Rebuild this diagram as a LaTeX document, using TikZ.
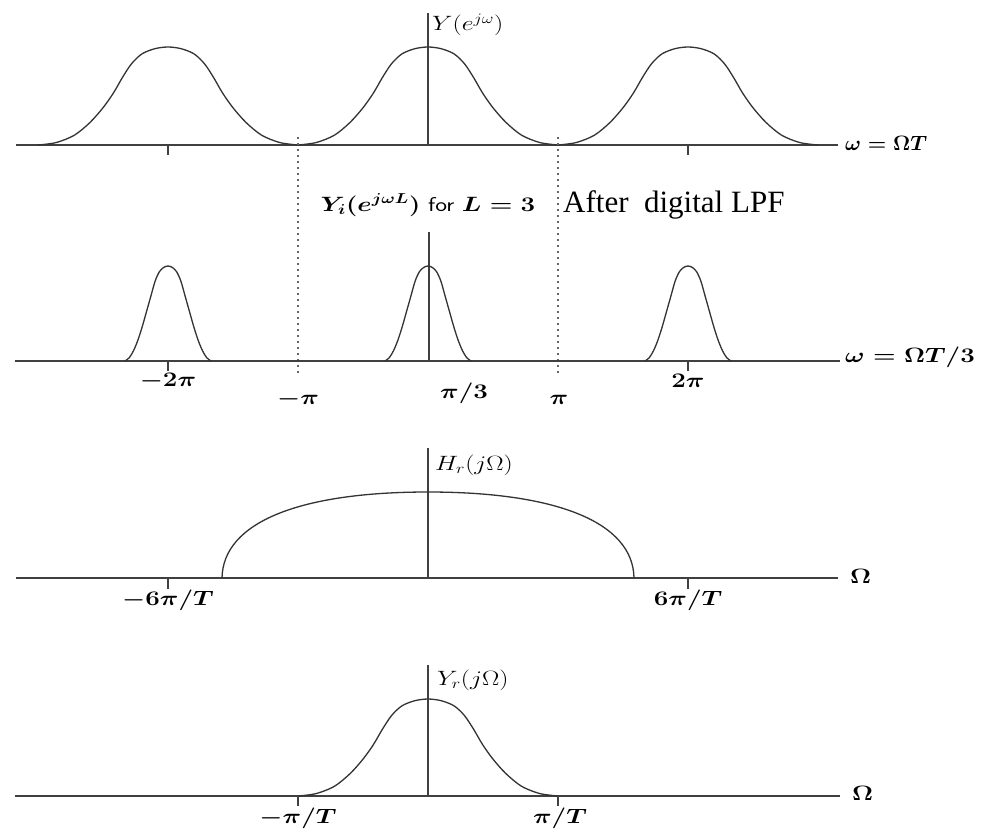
\documentclass[tikz,border=0pt]{standalone}
\usepackage{amsmath}
\usepackage{fontspec}
\newfontfamily\lpffont{Liberation Serif}
\newcommand\bmx[1]{\scalebox{1.25}[1]{\boldmath$#1$}}
\newcommand\bmxn[1]{\scalebox{1.02}[1]{\boldmath$#1$}}
\newcommand\rmx[1]{\scalebox{1.25}[1]{$#1$}}
\tikzset{
  pics/widebell/.style={code={
    \draw[curve] plot[smooth] coordinates {(-1,0) (-0.86,0.025) (-0.72,0.1) (-0.6,0.23) (-0.5,0.38) (-0.42,0.53) (-0.35,0.69) (-0.28,0.83) (-0.2,0.93) (-0.1,0.983) (0,1)
      (0.1,0.983) (0.2,0.93) (0.28,0.83) (0.35,0.69) (0.42,0.53) (0.5,0.38) (0.6,0.23) (0.72,0.1) (0.86,0.025) (1,0)};
  }},
  pics/narrowbell/.style={code={
    \draw[curve] plot[smooth] coordinates {(-1,0) (-0.9,0.035) (-0.8,0.11) (-0.7,0.22) (-0.6,0.36) (-0.5,0.52) (-0.4,0.68) (-0.3,0.84) (-0.2,0.94) (-0.1,0.985) (0,1)
      (0.1,0.985) (0.2,0.94) (0.3,0.84) (0.4,0.68) (0.5,0.52) (0.6,0.36) (0.7,0.22) (0.8,0.11) (0.9,0.035) (1,0)};
  }}
}
\begin{document}
\begin{tikzpicture}[x=1pt,y=-1pt,
  ax/.style={line width=1.3pt, black!75},
  curve/.style={line width=1.3pt, black!80, line join=round},
  tickm/.style={line width=1.1pt, black!75},
  dots/.style={line width=2pt, black!60, dash pattern=on 2pt off 4pt},
  lbl/.style={font=\fontsize{20}{22}\selectfont, inner sep=0pt},
]
\useasboundingbox (0,0) rectangle (984,829);
\fill[white] (0,0) rectangle (984,829);

% ---------- panel 1 ----------
\coordinate (a1l) at (16,145); \coordinate (a1r) at (838,145);
\coordinate (v1b) at (428,145); \coordinate (v1t) at (428,13);
\draw[ax] (a1l) -- (a1r);
\draw[ax] (v1b) -- (v1t);
\foreach \c in {168,428,688} { \pic[xscale=130,yscale=-98] at (\c,145) {widebell}; }
\foreach \c in {168,688} { \draw[tickm] (\c,145) -- (\c,155); }
\node[lbl, anchor=west] (ylab) at (432,25) {\rmx{Y(e^{j\omega})}};
\node[lbl, anchor=west] (w1) at (845,143) {\bmxn{\omega = \Omega T}};

% ---------- dotted lines ----------
\coordinate (d1t) at (298,137); \coordinate (d1b) at (298,373);
\coordinate (d2t) at (558,137); \coordinate (d2b) at (558,373);
\draw[dots] (d1t) -- (d1b);
\draw[dots] (d2t) -- (d2b);

% ---------- panel 2 ----------
\coordinate (a2l) at (15,361); \coordinate (a2r) at (840,361);
\coordinate (v2b) at (429,361); \coordinate (v2t) at (429,232);
\draw[ax] (a2l) -- (a2r);
\draw[ax] (v2b) -- (v2t);
\foreach \c in {168,428,688} { \pic[xscale=43,yscale=-95] at (\c,361) {narrowbell}; }
\foreach \c in {168,688} { \draw[tickm] (\c,361) -- (\c,371); }
\node[lbl, anchor=base] (yi) at (428,211) {\bmx{Y_i(e^{j\omega L})\ \mbox{\sffamily for}\ L = 3}};
\node[font=\lpffont\fontsize{31}{33}\selectfont, anchor=base west, inner sep=0pt] (lpf) at (563,212) {After~~digital LPF};
\node[lbl, anchor=west] (w2) at (845,357) {\bmx{\omega = \Omega T/3}};
\node[lbl] (m2pi) at (168,381) {\bmx{-2\pi}};
\node[lbl] (mpi) at (298,399) {\bmx{-\pi}};
\node[lbl] (pi3) at (464,393) {\bmx{\pi/3}};
\node[lbl] (ppi) at (559,400) {\bmx{\pi}};
\node[lbl] (p2pi) at (688,381) {\bmx{2\pi}};

% ---------- panel 3 ----------
\coordinate (a3l) at (16,578); \coordinate (a3r) at (838,578);
\coordinate (v3b) at (428,578); \coordinate (v3t) at (428,448);
\draw[ax] (a3l) -- (a3r);
\draw[ax] (v3b) -- (v3t);
\draw[curve] (222,578) .. controls (223,522) and (300,492) .. (428,492)
             .. controls (556,492) and (633,522) .. (634,578);
\foreach \c in {168,688} { \draw[tickm] (\c,578) -- (\c,589); }
\node[lbl, anchor=west] (hr) at (435,465) {\rmx{H_r(j\Omega)}};
\node[lbl, anchor=west] (om3) at (850,576) {\bmx{\Omega}};
\node[lbl] (m6) at (168,600) {\bmx{-6\pi/T}};
\node[lbl] (p6) at (688,600) {\bmx{6\pi/T}};

% ---------- panel 4 ----------
\coordinate (a4l) at (15,796); \coordinate (a4r) at (840,796);
\coordinate (v4b) at (428,796); \coordinate (v4t) at (428,665);
\draw[ax] (a4l) -- (a4r);
\draw[ax] (v4b) -- (v4t);
\pic[xscale=130,yscale=-97] at (428,796) {widebell};
\foreach \c in {298,558} { \draw[tickm] (\c,796) -- (\c,806); }
\node[lbl, anchor=west] (yr) at (437,680) {\rmx{Y_r(j\Omega)}};
\node[lbl, anchor=west] (om4) at (852,793) {\bmx{\Omega}};
\node[lbl] (mpt) at (298,818) {\bmx{-\pi/T}};
\node[lbl] (ppt) at (560,818) {\bmx{\pi/T}};
\end{tikzpicture}
\end{document}
